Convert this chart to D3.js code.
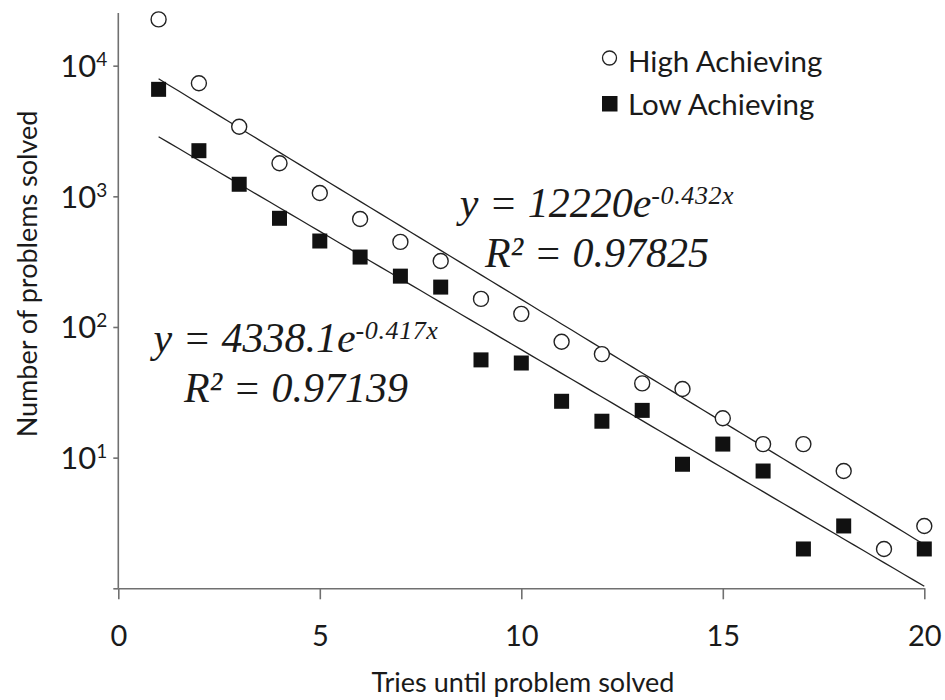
<!DOCTYPE html>
<html>
<head>
<meta charset="utf-8">
<script src="https://cdn.jsdelivr.net/npm/d3@7"></script>
<style>
  html, body { margin: 0; padding: 0; background: #fff; }
  svg { display: block; }
  .axis path, .axis line { stroke: #707070; stroke-width: 1.6px; }
  .axis text { font-family: Lato, "Open Sans", sans-serif; fill: #1a1a1a; }
</style>
</head>
<body>
<svg id="chart" width="945" height="700"></svg>
<script>
// Tries until the problem was solved (1..20)
const tries = [1, 2, 3, 4, 5, 6, 7, 8, 9, 10, 11, 12, 13, 14, 15, 16, 17, 18, 19, 20];

// Number of problems solved, high-achieving students
const highAchieving = [22600, 7330, 3410, 1790, 1060, 670, 448, 320, 164, 126,
                       77, 62, 37, 33.5, 20, 12.7, 12.7, 7.9, 2, 3];

// Number of problems solved, low-achieving students (none at 19 tries)
const lowAchieving = [6590, 2235, 1237, 679, 455, 343, 245, 202, 56, 53,
                      27, 19, 23, 8.9, 12.7, 7.9, 2, 3, null, 2];

// Exponential fits y = a * e^(b x), with R²
const highFit = { a: 12220, b: -0.432, r2: "0.97825" };
const lowFit  = { a: 4338.1, b: -0.417, r2: "0.97139" };

const xTicks = [0, 5, 10, 15, 20];
const yTicks = [1, 10, 100, 1000, 10000];
const yTickExponents = ["0", "1", "2", "3", "4"];

const seriesNames = ["High Achieving", "Low Achieving"];
const xTitle = "Tries until problem solved";
const yTitle = "Number of problems solved";

const svg = d3.select("#chart");

const x = d3.scaleLinear().domain([0, 20]).range([118.3, 924.3]);
const y = d3.scaleLog().domain([1, 25300]).range([588.3, 13]);

// X axis
const gx = svg.append("g")
  .attr("class", "axis")
  .attr("transform", `translate(0,${y(1)})`)
  .call(d3.axisBottom(x).tickValues(xTicks).tickSizeInner(11).tickSizeOuter(0).tickPadding(26)
        .tickFormat(d3.format("d")));
gx.selectAll("text").style("font-size", "29px");

// Y axis (log), labels as powers of ten
const gy = svg.append("g")
  .attr("class", "axis")
  .attr("transform", `translate(${x(0)},0)`)
  .call(d3.axisLeft(y).tickValues(yTicks).tickSizeInner(5).tickSizeOuter(0).tickPadding(6)
        .tickFormat(() => ""));
gy.select(".domain").attr("d", `M0,${y(25300)}V${y(1)}`);
gy.selectAll(".tick text").each(function(d, i) {
  if (d === 1) return;
  const t = d3.select(this).attr("dy", null).attr("y", 11).style("font-size", "31px");
  t.append("tspan").text("10");
  t.append("tspan").attr("dy", -11).style("font-size", "19px").text(yTickExponents[i]);
});

// Trend lines over the observed range
const fitLine = d3.line().x(d => x(d[0])).y(d => y(d[1]));
[highFit, lowFit].forEach(f => {
  const pts = d3.range(1, 20.001, 0.25).map(t => [t, f.a * Math.exp(f.b * t)]);
  svg.append("path")
    .attr("d", fitLine(pts))
    .attr("fill", "none")
    .attr("stroke", "#222")
    .attr("stroke-width", 1.3);
});

// High achieving: open circles
svg.append("g").selectAll("circle")
  .data(tries.map((t, i) => [t, highAchieving[i]]).filter(d => d[1] != null))
  .join("circle")
  .attr("cx", d => x(d[0]))
  .attr("cy", d => y(d[1]))
  .attr("r", 7.5)
  .attr("fill", "#fff")
  .attr("stroke", "#222")
  .attr("stroke-width", 1.4);

// Low achieving: filled squares
const sq = 15;
svg.append("g").selectAll("rect")
  .data(tries.map((t, i) => [t, lowAchieving[i]]).filter(d => d[1] != null))
  .join("rect")
  .attr("x", d => x(d[0]) - sq / 2)
  .attr("y", d => y(d[1]) - sq / 2)
  .attr("width", sq)
  .attr("height", sq)
  .attr("fill", "#111");

// Equation labels
function equation(cx, baseline, f) {
  const g = svg.append("g")
    .style("font-family", '"Liberation Serif", "Times New Roman", serif')
    .style("font-style", "italic")
    .attr("fill", "#1a1a1a")
    .attr("text-anchor", "middle");
  const t1 = g.append("text").attr("x", cx).attr("y", baseline).style("font-size", "42px");
  t1.append("tspan").text(`y = ${f.a}e`);
  t1.append("tspan").attr("dy", -13).style("font-size", "26px").style("letter-spacing", "0.6px")
    .text(`${f.b}x`);
  g.append("text").attr("x", cx).attr("y", baseline + 50).style("font-size", "42px")
    .text(`R² = ${f.r2}`);
}
equation(597, 216.7, highFit);
equation(296, 351.7, lowFit);

// Legend
const legend = svg.append("g")
  .style("font-family", 'Lato, "Open Sans", sans-serif')
  .style("font-size", "29.5px")
  .attr("fill", "#1a1a1a");
legend.append("circle").attr("cx", 609.5).attr("cy", 58).attr("r", 7)
  .attr("fill", "#fff").attr("stroke", "#222").attr("stroke-width", 1.3);
legend.append("text").attr("x", 628).attr("y", 72).text(seriesNames[0]);
legend.append("rect").attr("x", 602).attr("y", 96).attr("width", 15.5).attr("height", 15.5)
  .attr("fill", "#111");
legend.append("text").attr("x", 628).attr("y", 115).text(seriesNames[1]);

// Axis titles
svg.append("text")
  .attr("x", 523).attr("y", 692)
  .attr("text-anchor", "middle")
  .style("font-family", 'Lato, "Open Sans", sans-serif')
  .style("font-size", "27px")
  .attr("fill", "#1a1a1a")
  .text(xTitle);

svg.append("text")
  .attr("transform", "translate(37,274) rotate(-90)")
  .attr("text-anchor", "middle")
  .style("font-family", 'Lato, "Open Sans", sans-serif')
  .style("font-size", "27px")
  .attr("fill", "#1a1a1a")
  .text(yTitle);
</script>
</body>
</html>
